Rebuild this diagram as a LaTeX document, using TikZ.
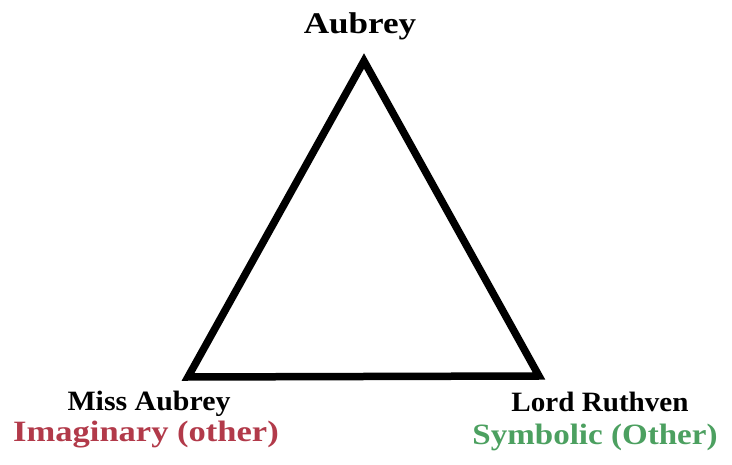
\documentclass[tikz,border=0pt]{standalone}
\usepackage{fontspec}
\setmainfont{Liberation Serif}
\definecolor{imagred}{RGB}{178,58,74}
\definecolor{symgreen}{RGB}{76,160,96}
\begin{document}
\begin{tikzpicture}[x=1pt,y=-1pt,
  lbl/.style={font=\bfseries\fontsize{28}{28}\selectfont, anchor=base, inner sep=0pt, transform shape},
  big/.style={font=\bfseries\fontsize{29.5}{29.5}\selectfont, anchor=base, inner sep=0pt, transform shape},
  edge/.style={line width=7.5pt, line join=miter}]
\useasboundingbox[fill=white] (0,0) rectangle (732,465);
\coordinate (top) at (364,61);
\coordinate (bl) at (188,377);
\coordinate (br) at (539,376);
\draw[edge] (top) -- (bl) -- (br) -- cycle;
\node[lbl, font=\bfseries\fontsize{30}{30}\selectfont, xscale=1.17] (aubrey) at (360,34) {Aubrey};
\node[lbl, xscale=1.067] (miss) at (149,410) {Miss Aubrey};
\node[big, xscale=1.17, text=imagred] (imag) at (146,442) {Imaginary (other)};
\node[lbl, xscale=1.04] (lord) at (600,412) {Lord Ruthven};
\node[big, xscale=1.12, text=symgreen] (sym) at (595,445) {Symbolic (Other)};
\end{tikzpicture}
\end{document}
